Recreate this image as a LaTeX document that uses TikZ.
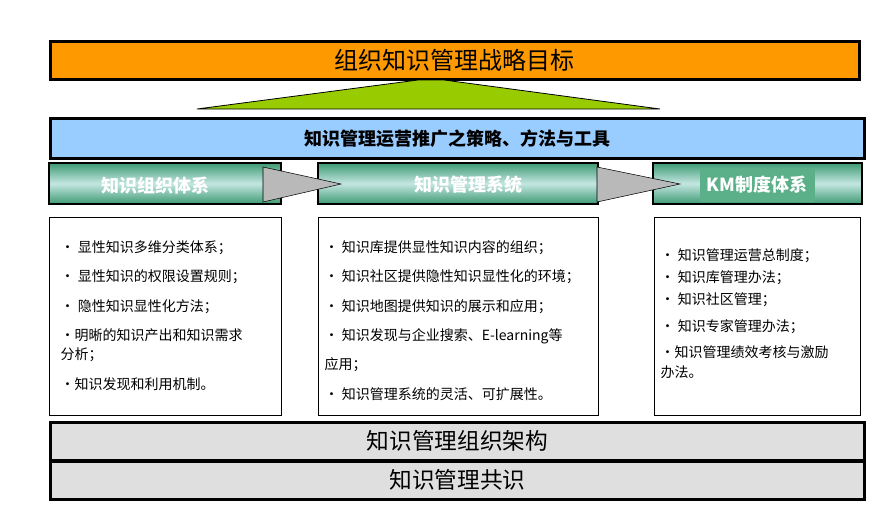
\documentclass[tikz,border=0pt]{standalone}
\usepackage{fontspec}
\setmainfont{Noto Sans CJK SC}
\begin{document}
\begin{tikzpicture}[x=0.75pt,y=-0.75pt,
  frame/.style={draw=black,line width=2pt},
  hdr/.style={frame,top color=hgreen,bottom color=hgreen,middle color=hlight},
  hdrtxt/.style={text=white,font=\bfseries\fontsize{13.5}{15}\selectfont},
  item/.style={anchor=north west,align=left,font=\fontsize{10.5}{14.5}\selectfont},
  arr/.style={draw=black,fill=gray!55,line width=0.4pt}]
\definecolor{hgreen}{HTML}{3E9A72}
\definecolor{hlight}{HTML}{C4E6E2}
\definecolor{kmbg}{HTML}{5BAF89}
\useasboundingbox (0,0) rectangle (895,529);
\node[frame,fill={rgb,255:red,255;green,153;blue,0},minimum width=809*0.75pt,minimum height=38*0.75pt,anchor=north west,font=\fontsize{18}{20}\selectfont] (goal) at (49,40) {组织知识管理战略目标};
\draw[fill={rgb,255:red,153;green,204;blue,0},draw=black,line width=0.6pt] (197,109) -- (418,80) -- (444,80) -- (660,109) -- cycle;
\node[frame,fill={rgb,255:red,153;green,204;blue,255},minimum width=814*0.75pt,minimum height=40*0.75pt,anchor=north west,font=\bfseries\fontsize{13.5}{15}\selectfont] (strat) at (49,117) {知识管理运营推广之策略、方法与工具};
\shade[hdr] (49,163) rectangle (281,204);
\shade[hdr] (318,163) rectangle (598,204);
\shade[hdr] (653,163) rectangle (862,204);
\fill[kmbg] (700,168) rectangle (815,202);
\node[hdrtxt] (h1) at (155,186) {知识组织体系};
\node[hdrtxt] (h2) at (468,185) {知识管理系统};
\node[hdrtxt] (h3) at (757,185) {KM制度体系};
\draw[arr] (263,167) -- (341,184) -- (263,202) -- cycle;
\draw[arr] (597,167) -- (680,184) -- (597,202) -- cycle;
\draw[black,line width=0.6pt] (49,217) rectangle (281,415);
\draw[black,line width=0.6pt] (318,217) rectangle (598,415);
\draw[black,line width=0.6pt] (654,217) rectangle (860,415);
\node[item] (t1) at (56,236) {• 显性知识多维分类体系；\\[7.5pt]• 显性知识的权限设置规则；\\[7.5pt]• 隐性知识显性化方法；\\[7.5pt]•明晰的知识产出和知识需求\\分析；\\[7.5pt]•知识发现和利用机制。};
\node[item] (t2) at (320,236) {• 知识库提供显性知识内容的组织；\\[7.5pt]• 知识社区提供隐性知识显性化的环境；\\[7.5pt]• 知识地图提供知识的展示和应用；\\[7.5pt]• 知识发现与企业搜索、E-learning等\\[7.5pt]应用；\\[7.5pt]• 知识管理系统的灵活、可扩展性。};
\node[item] (t3) at (656,244) {• 知识管理运营总制度；\\[2pt]• 知识库管理办法；\\[2pt]• 知识社区管理；\\[5.5pt]• 知识专家管理办法；\\[5.5pt]•知识管理绩效考核与激励\\办法。};
\node[frame,fill=gray!25,minimum width=814*0.75pt,minimum height=38*0.75pt,anchor=north west,font=\fontsize{17}{19}\selectfont] (org) at (49,421) {知识管理组织架构};
\node[frame,fill=gray!25,minimum width=814*0.75pt,minimum height=38*0.75pt,anchor=north west,font=\fontsize{17}{19}\selectfont] (cons) at (49,460) {知识管理共识};
\end{tikzpicture}
\end{document}
